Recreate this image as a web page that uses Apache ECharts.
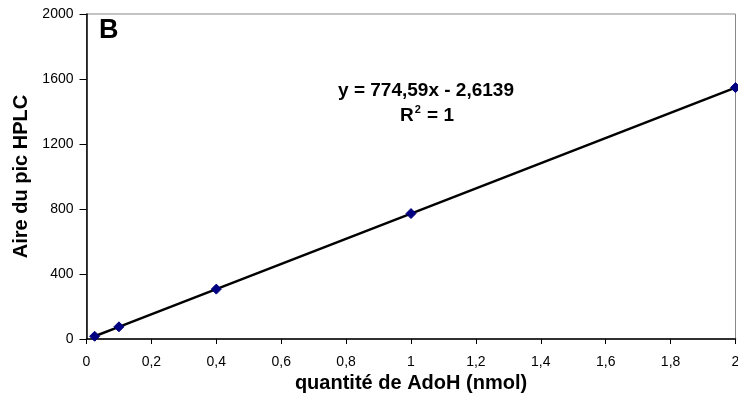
<!DOCTYPE html>
<html><head><meta charset="utf-8">
<script src="https://cdn.jsdelivr.net/npm/echarts@6/dist/echarts.min.js"></script>
<style>html,body{margin:0;padding:0;background:#fff}#c{width:738px;height:408px}</style>
</head><body><div id="c"></div>
<script>
const xValues = [0.025, 0.1, 0.4, 1, 2];
const yValues = [17, 75, 307, 772, 1547];
const xTicks = [0, 0.2, 0.4, 0.6, 0.8, 1, 1.2, 1.4, 1.6, 1.8, 2];
const yTicks = [0, 400, 800, 1200, 1600, 2000];
const xTitle = 'quantité de AdoH (nmol)';
const yTitle = 'Aire du pic HPLC';
const equation = 'y = 774,59x - 2,6139';

const font = 'Liberation Sans, Arial, sans-serif';
const data = xValues.map((x, i) => [x, yValues[i]]);
const chart = echarts.init(document.getElementById('c'), null, {renderer: 'canvas'});
chart.setOption({
  animation: false,
  backgroundColor: '#fff',
  grid: {left: 86.5, right: 2.5, top: 14, bottom: 69, show: true, borderColor: '#888', borderWidth: 1,
         backgroundColor: 'transparent', containLabel: false, outerBoundsMode: 'none'},
  xAxis: {
    type: 'value', min: 0, max: 2, interval: 0.2,
    axisLine: {show: true, onZero: false, lineStyle: {color: '#000', width: 1.5}},
    axisTick: {show: true, inside: false, length: 5, lineStyle: {color: '#000'}},
    splitLine: {show: false},
    axisLabel: {color: '#000', fontFamily: font, fontSize: 14, margin: 16, showMaxLabel: true, showMinLabel: true,
      formatter: v => (Math.round(v * 10) / 10).toString().replace('.', ',')},
    name: xTitle, nameLocation: 'middle', nameGap: 33,
    nameTextStyle: {color: '#000', fontFamily: font, fontSize: 20, fontWeight: 'bold'}
  },
  yAxis: {
    type: 'value', min: 0, max: 2000, interval: 400,
    axisLine: {show: true, onZero: false, lineStyle: {color: '#000', width: 1.5}},
    axisTick: {show: true, inside: false, length: 7, lineStyle: {color: '#000'}},
    splitLine: {show: false},
    axisLabel: {color: '#000', fontFamily: font, fontSize: 14, margin: 13, formatter: v => String(v)},
    name: yTitle, nameLocation: 'middle', nameGap: 55,
    nameTextStyle: {color: '#000', fontFamily: font, fontSize: 20, fontWeight: 'bold'}
  },
  series: [{
    type: 'line', data: data, clip: false,
    lineStyle: {color: '#000', width: 2.5},
    symbol: 'diamond', symbolSize: 10,
    itemStyle: {color: '#000080', borderColor: '#000080'},
    z: 3
  }],
  graphic: [
    {type: 'text', left: 99, top: 17, style: {text: 'B', font: 'bold 27px ' + font, fill: '#000'}},
    {type: 'text', x: 426, y: 91, style: {text: equation, font: 'bold 19px ' + font, fill: '#000', align: 'center', verticalAlign: 'middle'}},
    {type: 'text', x: 427, y: 116, style: {
      text: '{n|R}{s|2}{n| = 1}', align: 'center', verticalAlign: 'middle',
      rich: {n: {font: 'bold 19px ' + font, fill: '#000', color: '#000'},
             s: {font: 'bold 11px ' + font, fill: '#000', color: '#000', verticalAlign: 'top', padding: [0, 1, 12, 1]}}
    }}
  ]
});
</script></body></html>
